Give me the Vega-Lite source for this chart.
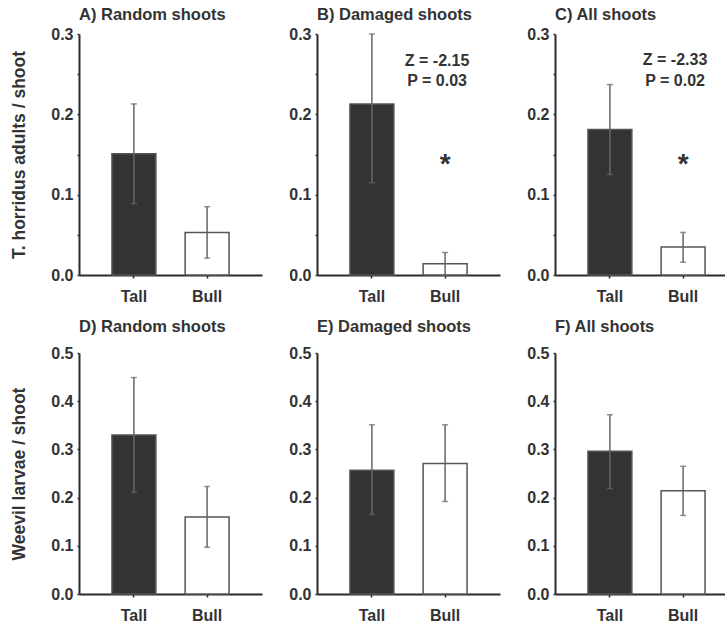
{
  "$schema": "https://vega.github.io/schema/vega-lite/v6.json",
  "background": "white",
  "padding": {"left": 10, "top": 6, "right": 0, "bottom": 0},
  "config": {
    "font": "Liberation Sans",
    "view": {"stroke": null},
    "concat": {"spacing": 26},
    "title": {"font": "Liberation Sans", "fontSize": 16.5, "fontWeight": "bold", "color": "#333333", "anchor": "start", "frame": "group", "offset": 3},
    "axis": {
      "grid": false,
      "domainColor": "#2a2a2a",
      "domainWidth": 2,
      "tickColor": "#2a2a2a",
      "tickWidth": 1.5,
      "labelFont": "Liberation Sans",
      "labelFontSize": 16,
      "labelFontWeight": "bold",
      "labelColor": "#333333",
      "titleFont": "Liberation Sans",
      "titleFontSize": 17.5,
      "titleFontWeight": "bold",
      "titleColor": "#333333"
    }
  },
  "datasets": {
    "bars": [
      {"panel": "A", "group": "Tall", "mean": 0.151, "lo": 0.089, "hi": 0.213},
      {"panel": "A", "group": "Bull", "mean": 0.053, "lo": 0.021, "hi": 0.085},
      {"panel": "B", "group": "Tall", "mean": 0.213, "lo": 0.115, "hi": 0.300},
      {"panel": "B", "group": "Bull", "mean": 0.014, "lo": 0.000, "hi": 0.028},
      {"panel": "C", "group": "Tall", "mean": 0.181, "lo": 0.125, "hi": 0.237},
      {"panel": "C", "group": "Bull", "mean": 0.035, "lo": 0.016, "hi": 0.053},
      {"panel": "D", "group": "Tall", "mean": 0.330, "lo": 0.211, "hi": 0.449},
      {"panel": "D", "group": "Bull", "mean": 0.160, "lo": 0.097, "hi": 0.223},
      {"panel": "E", "group": "Tall", "mean": 0.257, "lo": 0.165, "hi": 0.351},
      {"panel": "E", "group": "Bull", "mean": 0.271, "lo": 0.192, "hi": 0.351},
      {"panel": "F", "group": "Tall", "mean": 0.296, "lo": 0.219, "hi": 0.372},
      {"panel": "F", "group": "Bull", "mean": 0.214, "lo": 0.163, "hi": 0.265}
    ],
    "notes": [
      {"panel": "B", "group": "Bull", "y": 0.267, "label": "Z = -2.15", "kind": "stat"},
      {"panel": "B", "group": "Bull", "y": 0.241, "label": "P = 0.03", "kind": "stat"},
      {"panel": "B", "group": "Bull", "y": 0.145, "label": "*", "kind": "star"},
      {"panel": "C", "group": "Bull", "y": 0.268, "label": "Z = -2.33", "kind": "stat"},
      {"panel": "C", "group": "Bull", "y": 0.241, "label": "P = 0.02", "kind": "stat"},
      {"panel": "C", "group": "Bull", "y": 0.145, "label": "*", "kind": "star"}
    ]
  },
  "spacing": 14,
  "vconcat": [
    {
      "hconcat": [
        {
          "width": 183, "height": 241,
          "title": "A) Random shoots",
          "data": {"name": "bars"},
          "transform": [{"filter": "datum.panel === 'A'"}],
          "encoding": {"x": {"field": "group", "type": "nominal", "sort": ["Tall", "Bull"], "scale": {"paddingInner": 0.4, "paddingOuter": 0.45}, "axis": {"title": null, "labelAngle": 0, "tickSize": 3, "labelPadding": 10}}},
          "layer": [
            {"mark": {"type": "bar", "stroke": "#555555", "strokeWidth": 1.5},
             "encoding": {"y": {"field": "mean", "type": "quantitative", "title": "T. horridus adults / shoot", "scale": {"domain": [0, 0.3]}, "axis": {"titlePadding": 22, "values": [0, 0.05, 0.1, 0.15, 0.2, 0.25, 0.3], "labelExpr": "round(datum.value*20) % 2 == 0 ? format(datum.value, '.1f') : ''", "tickSize": 2, "labelPadding": 4}},
                          "fill": {"field": "group", "type": "nominal", "scale": {"domain": ["Tall", "Bull"], "range": ["#333333", "#ffffff"]}, "legend": null}}},
            {"mark": {"type": "errorbar", "ticks": {"size": 6, "color": "#666666", "thickness": 1.5}, "rule": {"color": "#666666", "strokeWidth": 1.5}},
             "encoding": {"y": {"field": "lo", "type": "quantitative", "title": "T. horridus adults / shoot"}, "y2": {"field": "hi"}}}
          ]
        },
        {
          "width": 183, "height": 241,
          "title": "B) Damaged shoots",
          "encoding": {"x": {"field": "group", "type": "nominal", "sort": ["Tall", "Bull"], "scale": {"paddingInner": 0.4, "paddingOuter": 0.45}, "axis": {"title": null, "labelAngle": 0, "tickSize": 3, "labelPadding": 10}}},
          "layer": [
            {"data": {"name": "bars"}, "transform": [{"filter": "datum.panel === 'B'"}],
             "mark": {"type": "bar", "stroke": "#555555", "strokeWidth": 1.5},
             "encoding": {"y": {"field": "mean", "type": "quantitative", "scale": {"domain": [0, 0.3]}, "axis": {"title": null, "values": [0, 0.05, 0.1, 0.15, 0.2, 0.25, 0.3], "labelExpr": "round(datum.value*20) % 2 == 0 ? format(datum.value, '.1f') : ''", "tickSize": 2, "labelPadding": 4}},
                          "fill": {"field": "group", "type": "nominal", "scale": {"domain": ["Tall", "Bull"], "range": ["#333333", "#ffffff"]}, "legend": null}}},
            {"data": {"name": "bars"}, "transform": [{"filter": "datum.panel === 'B'"}],
             "mark": {"type": "errorbar", "ticks": {"size": 6, "color": "#666666", "thickness": 1.5}, "rule": {"color": "#666666", "strokeWidth": 1.5}},
             "encoding": {"y": {"field": "lo", "type": "quantitative"}, "y2": {"field": "hi"}}},
            {"data": {"name": "notes"}, "transform": [{"filter": "datum.panel === 'B' && datum.kind === 'stat'"}],
             "mark": {"type": "text", "font": "Liberation Sans", "fontSize": 16, "fontWeight": "bold", "color": "#333333", "align": "center", "dx": -8},
             "encoding": {"y": {"field": "y", "type": "quantitative"}, "text": {"field": "label"}}},
            {"data": {"name": "notes"}, "transform": [{"filter": "datum.panel === 'B' && datum.kind === 'star'"}],
             "mark": {"type": "text", "font": "Liberation Sans", "fontSize": 28, "fontWeight": "bold", "color": "#333333", "align": "center", "baseline": "middle", "dy": 6},
             "encoding": {"y": {"field": "y", "type": "quantitative"}, "text": {"field": "label"}}}
          ]
        },
        {
          "width": 183, "height": 241,
          "title": "C) All shoots",
          "encoding": {"x": {"field": "group", "type": "nominal", "sort": ["Tall", "Bull"], "scale": {"paddingInner": 0.4, "paddingOuter": 0.45}, "axis": {"title": null, "labelAngle": 0, "tickSize": 3, "labelPadding": 10}}},
          "layer": [
            {"data": {"name": "bars"}, "transform": [{"filter": "datum.panel === 'C'"}],
             "mark": {"type": "bar", "stroke": "#555555", "strokeWidth": 1.5},
             "encoding": {"y": {"field": "mean", "type": "quantitative", "scale": {"domain": [0, 0.3]}, "axis": {"title": null, "values": [0, 0.05, 0.1, 0.15, 0.2, 0.25, 0.3], "labelExpr": "round(datum.value*20) % 2 == 0 ? format(datum.value, '.1f') : ''", "tickSize": 2, "labelPadding": 4}},
                          "fill": {"field": "group", "type": "nominal", "scale": {"domain": ["Tall", "Bull"], "range": ["#333333", "#ffffff"]}, "legend": null}}},
            {"data": {"name": "bars"}, "transform": [{"filter": "datum.panel === 'C'"}],
             "mark": {"type": "errorbar", "ticks": {"size": 6, "color": "#666666", "thickness": 1.5}, "rule": {"color": "#666666", "strokeWidth": 1.5}},
             "encoding": {"y": {"field": "lo", "type": "quantitative"}, "y2": {"field": "hi"}}},
            {"data": {"name": "notes"}, "transform": [{"filter": "datum.panel === 'C' && datum.kind === 'stat'"}],
             "mark": {"type": "text", "font": "Liberation Sans", "fontSize": 16, "fontWeight": "bold", "color": "#333333", "align": "center", "dx": -8},
             "encoding": {"y": {"field": "y", "type": "quantitative"}, "text": {"field": "label"}}},
            {"data": {"name": "notes"}, "transform": [{"filter": "datum.panel === 'C' && datum.kind === 'star'"}],
             "mark": {"type": "text", "font": "Liberation Sans", "fontSize": 28, "fontWeight": "bold", "color": "#333333", "align": "center", "baseline": "middle", "dy": 6},
             "encoding": {"y": {"field": "y", "type": "quantitative"}, "text": {"field": "label"}}}
          ]
        }
      ]
    },
    {
      "hconcat": [
        {
          "width": 183, "height": 241,
          "title": {"text": "D) Random shoots", "offset": 10},
          "data": {"name": "bars"},
          "transform": [{"filter": "datum.panel === 'D'"}],
          "encoding": {"x": {"field": "group", "type": "nominal", "sort": ["Tall", "Bull"], "scale": {"paddingInner": 0.4, "paddingOuter": 0.45}, "axis": {"title": null, "labelAngle": 0, "tickSize": 3, "labelPadding": 10}}},
          "layer": [
            {"mark": {"type": "bar", "stroke": "#555555", "strokeWidth": 1.5},
             "encoding": {"y": {"field": "mean", "type": "quantitative", "title": "Weevil larvae / shoot", "scale": {"domain": [0, 0.5]}, "axis": {"titlePadding": 22, "values": [0, 0.05, 0.1, 0.15, 0.2, 0.25, 0.3, 0.35, 0.4, 0.45, 0.5], "labelExpr": "round(datum.value*20) % 2 == 0 ? format(datum.value, '.1f') : ''", "tickSize": 2, "labelPadding": 4}},
                          "fill": {"field": "group", "type": "nominal", "scale": {"domain": ["Tall", "Bull"], "range": ["#333333", "#ffffff"]}, "legend": null}}},
            {"mark": {"type": "errorbar", "ticks": {"size": 6, "color": "#666666", "thickness": 1.5}, "rule": {"color": "#666666", "strokeWidth": 1.5}},
             "encoding": {"y": {"field": "lo", "type": "quantitative", "title": "Weevil larvae / shoot"}, "y2": {"field": "hi"}}}
          ]
        },
        {
          "width": 183, "height": 241,
          "title": {"text": "E) Damaged shoots", "offset": 10},
          "data": {"name": "bars"},
          "transform": [{"filter": "datum.panel === 'E'"}],
          "encoding": {"x": {"field": "group", "type": "nominal", "sort": ["Tall", "Bull"], "scale": {"paddingInner": 0.4, "paddingOuter": 0.45}, "axis": {"title": null, "labelAngle": 0, "tickSize": 3, "labelPadding": 10}}},
          "layer": [
            {"mark": {"type": "bar", "stroke": "#555555", "strokeWidth": 1.5},
             "encoding": {"y": {"field": "mean", "type": "quantitative", "scale": {"domain": [0, 0.5]}, "axis": {"title": null, "values": [0, 0.05, 0.1, 0.15, 0.2, 0.25, 0.3, 0.35, 0.4, 0.45, 0.5], "labelExpr": "round(datum.value*20) % 2 == 0 ? format(datum.value, '.1f') : ''", "tickSize": 2, "labelPadding": 4}},
                          "fill": {"field": "group", "type": "nominal", "scale": {"domain": ["Tall", "Bull"], "range": ["#333333", "#ffffff"]}, "legend": null}}},
            {"mark": {"type": "errorbar", "ticks": {"size": 6, "color": "#666666", "thickness": 1.5}, "rule": {"color": "#666666", "strokeWidth": 1.5}},
             "encoding": {"y": {"field": "lo", "type": "quantitative"}, "y2": {"field": "hi"}}}
          ]
        },
        {
          "width": 183, "height": 241,
          "title": {"text": "F) All shoots", "offset": 10},
          "data": {"name": "bars"},
          "transform": [{"filter": "datum.panel === 'F'"}],
          "encoding": {"x": {"field": "group", "type": "nominal", "sort": ["Tall", "Bull"], "scale": {"paddingInner": 0.4, "paddingOuter": 0.45}, "axis": {"title": null, "labelAngle": 0, "tickSize": 3, "labelPadding": 10}}},
          "layer": [
            {"mark": {"type": "bar", "stroke": "#555555", "strokeWidth": 1.5},
             "encoding": {"y": {"field": "mean", "type": "quantitative", "scale": {"domain": [0, 0.5]}, "axis": {"title": null, "values": [0, 0.05, 0.1, 0.15, 0.2, 0.25, 0.3, 0.35, 0.4, 0.45, 0.5], "labelExpr": "round(datum.value*20) % 2 == 0 ? format(datum.value, '.1f') : ''", "tickSize": 2, "labelPadding": 4}},
                          "fill": {"field": "group", "type": "nominal", "scale": {"domain": ["Tall", "Bull"], "range": ["#333333", "#ffffff"]}, "legend": null}}},
            {"mark": {"type": "errorbar", "ticks": {"size": 6, "color": "#666666", "thickness": 1.5}, "rule": {"color": "#666666", "strokeWidth": 1.5}},
             "encoding": {"y": {"field": "lo", "type": "quantitative"}, "y2": {"field": "hi"}}}
          ]
        }
      ]
    }
  ]
}
